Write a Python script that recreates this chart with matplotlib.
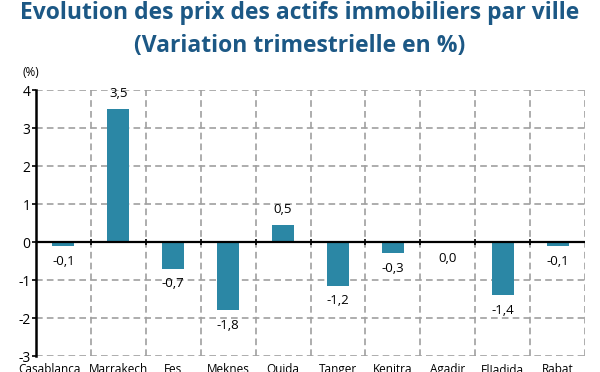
import numpy as np
import matplotlib.pyplot as plt
from matplotlib.transforms import ScaledTranslation

# %%
villes = ["Casablanca", "Marrakech", "Fes", "Meknes", "Oujda",
          "Tanger", "Kenitra", "Agadir", "ElJadida", "Rabat"]
variation = [-0.1, 3.5, -0.7, -1.8, 0.45, -1.15, -0.3, -0.03, -1.4, -0.1]
etiquettes = ["-0,1", "3,5", "-0,7", "-1,8", "0,5", "-1,2", "-0,3", "0,0", "-1,4", "-0,1"]
yticks = [-3, -2, -1, 0, 1, 2, 3, 4]

bleu = "#2b87a5"
titre_col = "#1c5885"
grille = "#a0a0a0"

plt.rcParams["font.family"] = ["Open Sans", "DejaVu Sans"]

# %%
fig = plt.figure(figsize=(6, 3.72), dpi=100)
ax = fig.add_axes([0.06, 0.043, 0.915, 0.715])

x = np.arange(len(villes))
ax.bar(x, variation, width=0.4, color=bleu, zorder=3)

ax.set_xlim(-0.5, len(villes) - 0.5)
ax.set_ylim(-3, 4)

# grille en tirets
for yv in yticks:
    if yv != 0:
        ax.axhline(yv, color=grille, lw=1.2, ls=(0, (4, 2.5)), zorder=1)
for xv in np.arange(0.5, len(villes) + 0.5, 1):
    ax.axvline(xv, color=grille, lw=1.2, ls=(0, (4, 2.5)), zorder=1)
ax.axhline(0, color="black", lw=1.6, zorder=4)
ax.plot(np.arange(0.5, len(villes) - 0.5, 1), np.zeros(len(villes) - 1),
        ls="none", marker="|", ms=5, mew=1.2, color="black", zorder=5)

for s in ["top", "right", "bottom"]:
    ax.spines[s].set_visible(False)
ax.spines["left"].set_linewidth(1.8)
ax.spines["left"].set_zorder(5)

ax.set_yticks(yticks)
ax.set_yticklabels([str(t) for t in yticks], fontsize=10)
ax.tick_params(axis="y", length=3, width=1.2, pad=1)
ax.set_xticks(x)
ax.set_xticklabels(villes, fontsize=8.5)
ax.tick_params(axis="x", length=0, pad=5)
# Casablanca decale a gauche comme dans l'original
lab0 = ax.get_xticklabels()[0]
lab0.set_transform(lab0.get_transform() + ScaledTranslation(-10 / 72, 0, fig.dpi_scale_trans))

for xi, v, lab in zip(x, variation, etiquettes):
    off = 11 if v > 0 else -11
    ax.annotate(lab, (xi, v), xytext=(0, off), textcoords="offset points",
                ha="center", va="center", fontsize=9.5, zorder=6)

fig.text(0.5, 0.966, "Evolution des prix des actifs immobiliers par ville",
         ha="center", va="center", fontsize=16.5, fontweight="bold", color=titre_col)
fig.text(0.5, 0.877, "(Variation trimestrielle en %)",
         ha="center", va="center", fontsize=16.5, fontweight="bold", color=titre_col)
fig.text(0.037, 0.806, "(%)", ha="left", va="center", fontsize=8.5)

plt.savefig("out.png", dpi=100)
